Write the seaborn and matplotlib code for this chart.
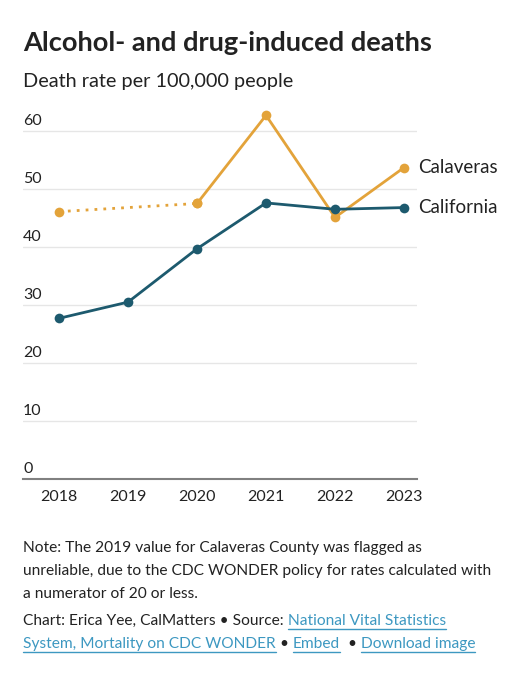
"""
Alcohol- and drug-induced deaths, Calaveras vs California
"""
import numpy as np
import pandas as pd
import seaborn as sns
import matplotlib.pyplot as plt
from matplotlib.lines import Line2D
from matplotlib.transforms import blended_transform_factory, offset_copy

sns.set_style('white')
plt.rcParams['font.family'] = ['Lato', 'DejaVu Sans']

# data
years = [2018, 2019, 2020, 2021, 2022, 2023]
california = [27.7, 30.5, 39.7, 47.6, 46.5, 46.8]
calaveras = [46.1, np.nan, 47.5, 62.7, 45.1, 53.7]
y_ticks = [0, 10, 20, 30, 40, 50, 60]
series_names = ['Calaveras', 'California']

TEAL = '#1d5a6e'
GOLD = '#e3a33a'
DARK = '#222222'
LINK = '#3d98c1'

df = pd.DataFrame({'year': years, 'California': california, 'Calaveras': calaveras})

W, H = 522, 680
fig = plt.figure(figsize=(W / 100, H / 100), dpi=100)
ax = fig.add_axes([23 / W, 1 - 479 / H, (417 - 23) / W, (479 - 102) / H])

# California, solid all the way
sns.lineplot(data=df, x='year', y='California', ax=ax, color=TEAL, lw=2,
             marker='o', markersize=7, markeredgewidth=0, zorder=4)

# Calaveras: dotted over the unreliable 2019 gap, solid after
cal_valid = df.dropna(subset=['Calaveras'])
gap = cal_valid[cal_valid['year'] <= 2020]
solid = cal_valid[cal_valid['year'] >= 2020]
sns.lineplot(data=gap, x='year', y='Calaveras', ax=ax, color=GOLD, lw=2,
             linestyle=(0, (1, 2.2)), marker='o', markersize=7, markeredgewidth=0, zorder=3)
sns.lineplot(data=solid, x='year', y='Calaveras', ax=ax, color=GOLD, lw=2,
             marker='o', markersize=7, markeredgewidth=0, zorder=3)

ax.set_xlim(2017.478, 2023.188)
ax.set_ylim(0, 65)
ax.set_xticks(years)
ax.set_xticklabels([str(y) for y in years], fontsize=11.5, color=DARK)
ax.set_yticks(y_ticks)
ax.set_yticklabels([])
ax.tick_params(axis='y', length=0)
ax.tick_params(axis='x', length=5, width=1.3, color='#808080', pad=3)
ax.set_xlabel('')
ax.set_ylabel('')
for s in ['top', 'right', 'left']:
    ax.spines[s].set_visible(False)
ax.spines['bottom'].set_color('#808080')
ax.spines['bottom'].set_linewidth(1.5)
ax.grid(axis='y', color='#e6e6e6', lw=1)
ax.grid(axis='x', visible=False)

# y labels sit on top of the gridlines, left aligned
trans = blended_transform_factory(ax.transAxes, ax.transData)
for v in y_ticks:
    ax.text(0, v + 0.5, str(v), transform=trans, ha='left', va='bottom',
            fontsize=11.5, color=DARK)

# direct labels at the line ends
label_trans = offset_copy(trans, fig=fig, x=1, y=0, units='dots')
ax.text(1.0, calaveras[-1], series_names[0], transform=label_trans, ha='left',
        va='center', fontsize=13.5, color=DARK, clip_on=False)
ax.text(1.0, california[-1], series_names[1], transform=label_trans, ha='left',
        va='center', fontsize=13.5, color=DARK, clip_on=False)

# header
fig.text(23 / W, 1 - 51 / H, 'Alcohol- and drug-induced deaths', fontsize=19.6,
         fontweight='bold', color=DARK, va='baseline')
fig.text(23 / W, 1 - 87 / H, 'Death rate per 100,000 people', fontsize=14.3,
         color=DARK, va='baseline')

# notes
note_lines = ['Note: The 2019 value for Calaveras County was flagged as',
              'unreliable, due to the CDC WONDER policy for rates calculated with',
              'a numerator of 20 or less.']
for i, line in enumerate(note_lines):
    fig.text(23 / W, 1 - (552 + 23 * i) / H, line, fontsize=11.2, color=DARK, va='baseline')

renderer = fig.canvas.get_renderer()


def write_line(x, y, pieces):
    for txt, is_link in pieces:
        t = fig.text(x, y, txt, fontsize=11.2, color=LINK if is_link else DARK, va='baseline')
        bb = t.get_window_extent(renderer).transformed(fig.transFigure.inverted())
        if is_link:
            fig.add_artist(Line2D([bb.x0, bb.x1], [y - 4 / H] * 2, color=LINK, lw=1))
        x = bb.x1


write_line(23 / W, 1 - 625 / H, [('Chart: Erica Yee, CalMatters • Source: ', False),
                                 ('National Vital Statistics', True)])
write_line(23 / W, 1 - 648 / H, [('System, Mortality on CDC WONDER', True),
                                 (' • ', False), ('Embed', True),
                                 ('  • ', False), ('Download image', True)])

fig.savefig('out.png', dpi=100, facecolor='white')
